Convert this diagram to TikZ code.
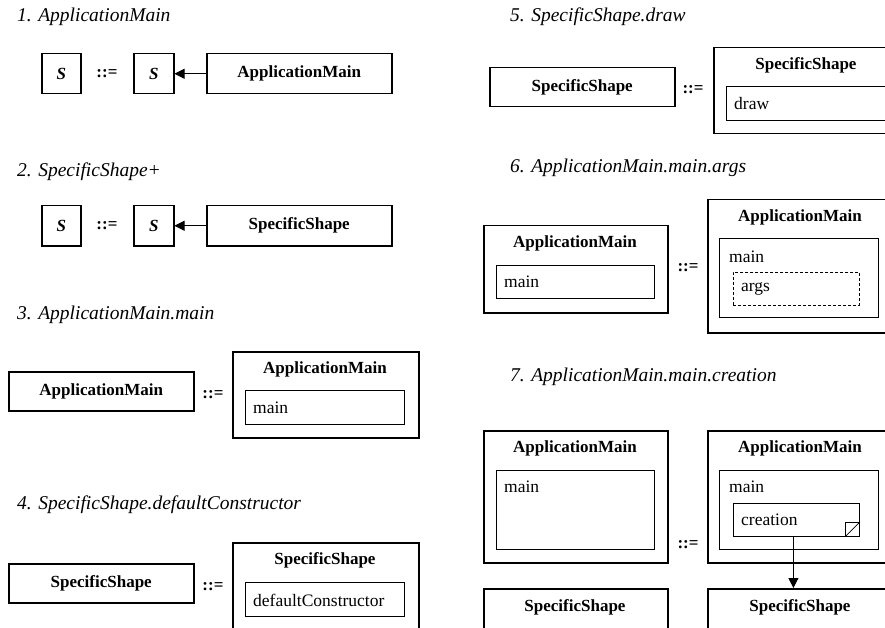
\documentclass[tikz,border=0pt]{standalone}
\usepackage{fontspec}
\setmainfont{Liberation Serif}
\usetikzlibrary{arrows.meta}
\tikzset{
  bx/.style={draw, line width=1.5pt, inner sep=0pt, anchor=north west, font=\fontsize{17}{20}\selectfont\bfseries},
  outer/.style={draw, line width=1.5pt, inner sep=0pt, anchor=north west},
  inbox/.style={draw, line width=0.8pt, inner sep=0pt, anchor=north west},
  dbox/.style={draw, line width=0.8pt, dashed, dash pattern=on 3pt off 2pt, inner sep=0pt, anchor=north west},
  ttl/.style={anchor=west, inner sep=0pt, font=\fontsize{19.5}{23}\selectfont\itshape},
  hd/.style={inner sep=0pt, font=\fontsize{17}{20}\selectfont\bfseries},
  lbl/.style={anchor=west, inner sep=0pt, font=\fontsize{17.5}{21}\selectfont},
  eqs/.style={inner sep=0pt, font=\fontsize{17}{20}\selectfont\bfseries},
  sbox/.style={draw, line width=1.5pt, inner sep=0pt, anchor=north west, font=\fontsize{17}{20}\selectfont\bfseries\itshape},
  arr/.style={line width=0.8pt, -{Triangle[length=10pt,width=10pt]}}
}
\begin{document}
\begin{tikzpicture}[x=1pt,y=-1pt]
\useasboundingbox (0,0) rectangle (885,628);
\clip (0,0) rectangle (885,628);
% ---- 1
\node[ttl] (t1) at (17,17) {1. ApplicationMain};
\node[sbox, minimum width=39pt, minimum height=40pt] (s1a) at (41,53) {S};
\node[eqs] (e1) at (107,74) {::=};
\node[sbox, minimum width=40pt, minimum height=40pt] (s1b) at (133,53) {S};
\node[bx, minimum width=185pt, minimum height=40pt] (am1) at (206,53) {ApplicationMain};
\draw[arr] (am1.west) -- (s1b.east);
% ---- 2
\node[ttl] (t2) at (17,172) {2. SpecificShape+};
\node[sbox, minimum width=39pt, minimum height=40pt] (s2a) at (41,205) {S};
\node[eqs] (e2) at (107,226) {::=};
\node[sbox, minimum width=40pt, minimum height=40pt] (s2b) at (133,205) {S};
\node[bx, minimum width=185pt, minimum height=40pt] (ss2) at (206,205) {SpecificShape};
\draw[arr] (ss2.west) -- (s2b.east);
% ---- 3
\node[ttl] (t3) at (17,315) {3. ApplicationMain.main};
\node[bx, minimum width=185pt, minimum height=39pt] (am3) at (8,371) {ApplicationMain};
\node[eqs] (e3) at (213,395) {::=};
\node[outer, minimum width=186pt, minimum height=86pt] (o3) at (232,351) {};
\node[hd] (h3) at (325,369) {ApplicationMain};
\node[inbox, minimum width=159pt, minimum height=34pt] (i3) at (245,390) {};
\node[lbl] (l3) at (253,408) {main};
% ---- 4
\node[ttl] (t4) at (17,505) {4. SpecificShape.defaultConstructor};
\node[bx, minimum width=185pt, minimum height=39pt] (ss4) at (8,563) {SpecificShape};
\node[eqs] (e4) at (213,587) {::=};
\node[outer, minimum width=186pt, minimum height=90pt] (o4) at (232,542) {};
\node[hd] (h4) at (325,560) {SpecificShape};
\node[inbox, minimum width=159pt, minimum height=34pt] (i4) at (245,582) {};
\node[lbl] (l4) at (253,600) {defaultConstructor};
% ---- 5
\node[ttl] (t5) at (510,17) {5. SpecificShape.draw};
\node[bx, minimum width=185pt, minimum height=39pt] (ss5) at (489,67) {SpecificShape};
\node[eqs] (e5) at (693,90) {::=};
\node[outer, minimum width=186pt, minimum height=86pt] (o5) at (713,47) {};
\node[hd] (h5) at (806,65) {SpecificShape};
\node[inbox, minimum width=159pt, minimum height=34pt] (i5) at (726,86) {};
\node[lbl] (l5) at (734,104) {draw};
% ---- 6
\node[ttl] (t6) at (510,168) {6. ApplicationMain.main.args};
\node[outer, minimum width=184pt, minimum height=87pt] (o6a) at (483,225) {};
\node[hd] (h6a) at (575,243) {ApplicationMain};
\node[inbox, minimum width=158pt, minimum height=33pt] (i6a) at (496,265) {};
\node[lbl] (l6a) at (504,282) {main};
\node[eqs] (e6) at (688,268) {::=};
\node[outer, minimum width=186pt, minimum height=133pt] (o6b) at (707,199) {};
\node[hd] (h6b) at (800,217) {ApplicationMain};
\node[inbox, minimum width=159pt, minimum height=79pt] (i6b) at (719,238) {};
\node[lbl] (l6b) at (729,257) {main};
\node[dbox, minimum width=126pt, minimum height=33pt] (d6) at (733,272) {};
\node[lbl] (l6c) at (741,289) {args};
% ---- 7
\node[ttl] (t7) at (510,377) {7. ApplicationMain.main.creation};
\node[outer, minimum width=184pt, minimum height=132pt] (o7a) at (483,430) {};
\node[hd] (h7a) at (575,448) {ApplicationMain};
\node[inbox, minimum width=158pt, minimum height=79pt] (i7a) at (496,470) {};
\node[lbl] (l7a) at (504,487) {main};
\node[eqs] (e7) at (688,545) {::=};
\node[outer, minimum width=186pt, minimum height=132pt] (o7b) at (707,430) {};
\node[hd] (h7b) at (800,448) {ApplicationMain};
\node[inbox, minimum width=159pt, minimum height=79pt] (i7b) at (719,470) {};
\node[lbl] (l7b) at (729,487) {main};
\node[inbox, minimum width=126pt, minimum height=33pt] (cr) at (733,503) {};
\node[lbl] (l7c) at (741,520) {creation};
\node[inbox, minimum width=14pt, minimum height=14pt, anchor=south east] (sq) at (cr.south east) {};
\draw[line width=0.8pt] (sq.south west) -- (sq.north east);
\node[outer, minimum width=184pt, minimum height=90pt] (ss7a) at (483,588) {};
\node[hd] (h7c) at (575,607) {SpecificShape};
\node[outer, minimum width=186pt, minimum height=90pt] (ss7b) at (707,588) {};
\node[hd] (h7d) at (800,607) {SpecificShape};
\draw[arr] ([xshift=-3pt]cr.south) -- ([xshift=-3pt]cr.south |- ss7b.north);
\end{tikzpicture}
\end{document}
